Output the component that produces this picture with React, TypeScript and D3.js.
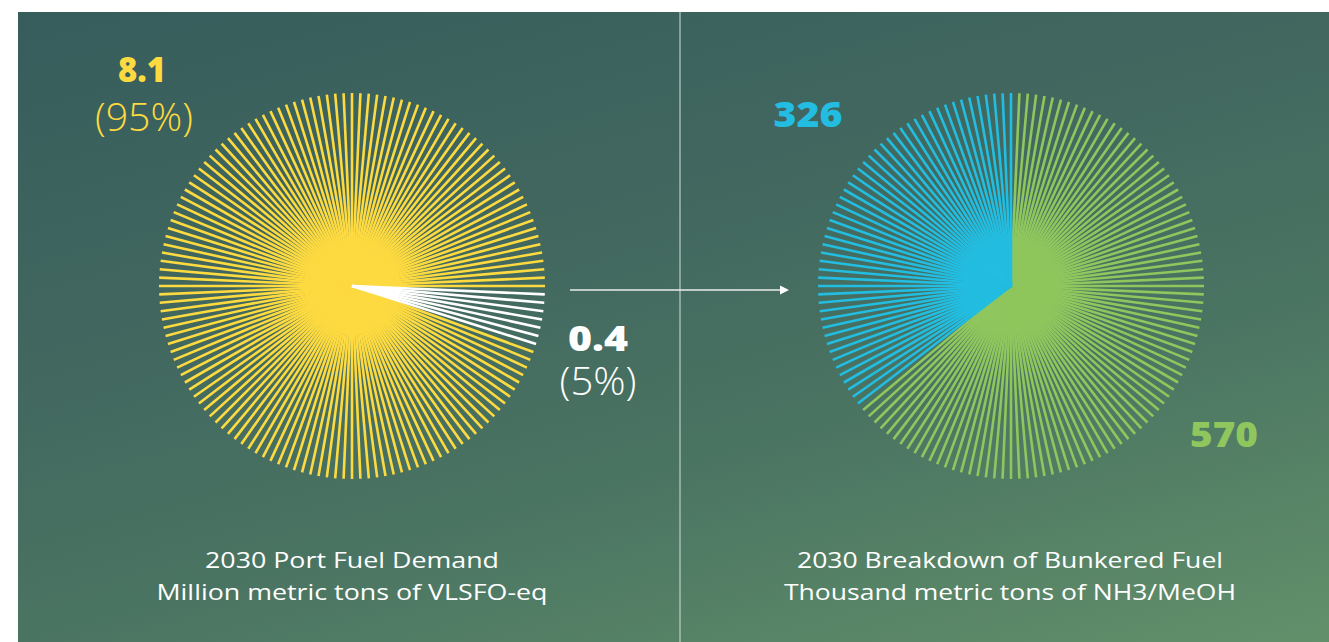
import React from "react";
import * as d3 from "d3";

// ---- data ----
const leftLabels = ["Other", "Port fuel"];
const leftValues = [0.4, 8.1];
const leftPercents = ["5%", "95%"];
const rightLabels = ["NH3/MeOH green", "NH3/MeOH blue"];
const rightValues = [570, 326];
const leftTitle = ["2030 Port Fuel Demand", "Million metric tons of VLSFO-eq"];
const rightTitle = ["2030 Breakdown of Bunkered Fuel", "Thousand metric tons of NH3/MeOH"];

const W = 1329;
const H = 642;
const STEP = 2.5; // degrees between rays
const R = 193;

const leftColors = ["#ffffff", "#fdda40"];
const rightColors = ["#8fc65d", "#22bde0"];

function rays(values: number[], colors: string[], startDeg: number) {
  const s = (startDeg * Math.PI) / 180;
  const pie = d3.pie<number>().sort(null).startAngle(s).endAngle(s + 2 * Math.PI);
  const arcs = pie(values);
  const angles = d3.range(0, 360, STEP).map((d) => (d * Math.PI) / 180);
  const out: { a: number; color: string; idx: number }[] = [];
  arcs.forEach((arc, i) => {
    angles.forEach((a) => {
      let t = a;
      while (t < arc.startAngle) t += 2 * Math.PI;
      if (t >= arc.startAngle && t < arc.endAngle) out.push({ a, color: colors[i], idx: i });
    });
  });
  // draw larger slice first, small one on top
  return out.sort((p, q) => (values[q.idx] - values[p.idx]));
}

function Pie({ cx, cy, values, colors, startDeg }: any) {
  const r = d3.scaleLinear().domain([0, 1]).range([0, R]);
  const items = rays(values, colors, startDeg);
  return (
    <g transform={`translate(${cx},${cy})`}>
      {items.map((d, i) => (
        <line
          key={i}
          x1={0}
          y1={0}
          x2={Math.sin(d.a) * r(1)}
          y2={-Math.cos(d.a) * r(1)}
          stroke={d.color}
          strokeWidth={2.6}
        />
      ))}
    </g>
  );
}

export default function App() {
  const font = "'Open Sans', 'Noto Sans', sans-serif";
  return (
    <svg width={W} height={H} style={{ position: "absolute", left: 0, top: 0 }}>
      <defs>
        <linearGradient id="bg" gradientUnits="userSpaceOnUse" x1={18} y1={12} x2={260} y2={925}>
          <stop offset="0" stopColor="#365d5c" />
          <stop offset="0.36" stopColor="#41675f" />
          <stop offset="0.64" stopColor="#4a7462" />
          <stop offset="1" stopColor="#62906a" />
        </linearGradient>
      </defs>
      <rect x={0} y={0} width={W} height={H} fill="#ffffff" />
      <rect x={18} y={12} width={W - 18} height={H - 12} fill="url(#bg)" />
      <line x1={680} y1={12} x2={680} y2={H} stroke="#d5dcd8" strokeWidth={1} />

      <Pie cx={352} cy={286} values={leftValues} colors={leftColors} startDeg={91.25} />
      <Pie cx={1011} cy={286} values={rightValues} colors={rightColors} startDeg={1.25} />

      {/* arrow */}
      <line x1={570} y1={290} x2={780} y2={290} stroke="#e8ecea" strokeWidth={1.3} />
      <path d="M780,285.5 L789,290 L780,294.5 Z" fill="#ffffff" />

      {/* labels */}
      <text x={142} y={82} textAnchor="middle" fill="#fdda40" fontFamily={font} fontWeight={800} fontSize={35}
        textLength={48} lengthAdjust="spacingAndGlyphs">
        {leftValues[1]}
      </text>
      <text x={144} y={131} textAnchor="middle" fill="#fdda40" fontFamily={font} fontWeight={300} fontSize={39}
        textLength={98} lengthAdjust="spacingAndGlyphs">
        ({leftPercents[1]})
      </text>
      <text x={598} y={351} textAnchor="middle" fill="#ffffff" fontFamily={font} fontWeight={800} fontSize={36}
        textLength={60} lengthAdjust="spacingAndGlyphs">
        {leftValues[0]}
      </text>
      <text x={598} y={395} textAnchor="middle" fill="#ffffff" fontFamily={font} fontWeight={300} fontSize={38}
        textLength={77} lengthAdjust="spacingAndGlyphs">
        ({leftPercents[0]})
      </text>
      <text x={808} y={127} textAnchor="middle" fill="#22bde0" fontFamily={font} fontWeight={800} fontSize={35}
        textLength={69} lengthAdjust="spacingAndGlyphs">
        {rightValues[1]}
      </text>
      <text x={1224} y={447} textAnchor="middle" fill="#8fc65d" fontFamily={font} fontWeight={800} fontSize={35}
        textLength={68} lengthAdjust="spacingAndGlyphs">
        {rightValues[0]}
      </text>

      {leftTitle.map((t, i) => (
        <text key={t} x={352} y={568 + i * 32} textAnchor="middle" fill="#ffffff" fontFamily={font} fontWeight={400} fontSize={22}
          textLength={i === 0 ? 294 : 391} lengthAdjust="spacingAndGlyphs">
          {t}
        </text>
      ))}
      {rightTitle.map((t, i) => (
        <text key={t} x={1010} y={568 + i * 32} textAnchor="middle" fill="#ffffff" fontFamily={font} fontWeight={400} fontSize={22}
          textLength={i === 0 ? 426 : 452} lengthAdjust="spacingAndGlyphs">
          {t}
        </text>
      ))}
    </svg>
  );
}
